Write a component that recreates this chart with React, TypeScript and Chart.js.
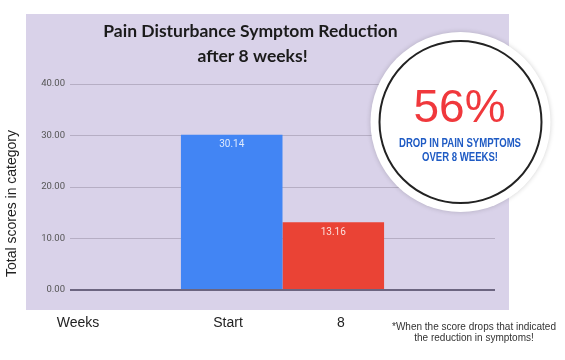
import React, { useEffect, useRef } from "react";
import { Chart, registerables } from "chart.js";

Chart.register(...registerables);

// ---- data ----
const seriesLabels = ["Start", "8"];
const seriesValues = [30.14, 13.16];
const seriesColors = ["#4285F4", "#EA4335"];
const yTickMin = 0;
const yTickMax = 40;
const yTickStep = 10;
const titleLines = ["Pain Disturbance Symptom Reduction", "after 8 weeks!"];
const yAxisTitle = "Total scores in category";
const xAxisTitle = "Weeks";
const badgeLines = ["DROP IN PAIN SYMPTOMS", "OVER 8 WEEKS!"];
const footnoteLines = ["*When the score drops that indicated", "the reduction in symptoms!"];

const dropPercent = Math.round((1 - seriesValues[1] / seriesValues[0]) * 100);

const panelPlugin = {
  id: "panel",
  beforeDraw(chart: any) {
    const ctx = chart.ctx;
    ctx.save();
    ctx.fillStyle = "#D9D2E9";
    ctx.fillRect(26, 14, 483, 296);
    ctx.restore();
  },
};

const overlayPlugin = {
  id: "overlay",
  afterDatasetsDraw(chart: any) {
    const ctx = chart.ctx;
    ctx.save();
    ctx.font = '10px Roboto, "Liberation Sans", Arial, sans-serif';
    ctx.fillStyle = "rgba(255,255,255,0.82)";
    ctx.textAlign = "center";
    ctx.textBaseline = "middle";
    chart.data.datasets.forEach((ds: any, i: number) => {
      const meta = chart.getDatasetMeta(i);
      meta.data.forEach((bar: any, j: number) => {
        ctx.fillText(Number(ds.data[j]).toFixed(2), bar.x, bar.y + 10);
      });
    });
    ctx.restore();
  },
  afterDraw(chart: any) {
    const ctx = chart.ctx;
    ctx.save();
    // title
    ctx.fillStyle = "#1b1b1b";
    ctx.textAlign = "center";
    ctx.textBaseline = "alphabetic";
    ctx.font = 'bold 17.5px Lato, "Noto Sans", sans-serif';
    ctx.fillText(titleLines[0], 250.5, 37);
    ctx.fillText(titleLines[1], 252.5, 62);

    // y axis title
    ctx.save();
    ctx.translate(16, 203.5);
    ctx.rotate(-Math.PI / 2);
    ctx.font = '14px "Liberation Sans", Arial, sans-serif';
    ctx.fillStyle = "#222";
    ctx.textAlign = "center";
    ctx.textBaseline = "alphabetic";
    ctx.fillText(yAxisTitle, 0, 0);
    ctx.restore();

    // x labels
    ctx.font = '14px "Liberation Sans", Arial, sans-serif';
    ctx.fillStyle = "#222";
    ctx.textAlign = "center";
    ctx.fillText(xAxisTitle, 78, 326.7);
    ctx.fillText(seriesLabels[0], 228, 326.7);
    ctx.fillText(seriesLabels[1], 341, 326.7);

    // footnote
    ctx.font = '10px "Liberation Sans", Arial, sans-serif';
    ctx.fillStyle = "#333";
    ctx.fillText(footnoteLines[0], 474, 329.5);
    ctx.fillText(footnoteLines[1], 474, 340.5);

    // badge
    const cx = 460.5;
    const cy = 122;
    ctx.save();
    ctx.shadowColor = "rgba(0,0,0,0.18)";
    ctx.shadowBlur = 5;
    ctx.fillStyle = "#ffffff";
    ctx.beginPath();
    ctx.arc(cx, cy, 90, 0, Math.PI * 2);
    ctx.fill();
    ctx.restore();
    ctx.beginPath();
    ctx.arc(cx, cy, 81, 0, Math.PI * 2);
    ctx.strokeStyle = "#222";
    ctx.lineWidth = 2;
    ctx.stroke();

    ctx.fillStyle = "#F0383C";
    ctx.font = '46px "Liberation Sans", Arial, sans-serif';
    ctx.textAlign = "center";
    ctx.fillText(dropPercent + "%", 459.5, 121.7);

    ctx.fillStyle = "#1F5BC4";
    ctx.font = 'bold 12.5px "Liberation Sans", Arial, sans-serif';
    const w0 = ctx.measureText(badgeLines[0]).width;
    const sx = 122 / w0;
    ctx.save();
    ctx.translate(460, 147);
    ctx.scale(sx, 1);
    ctx.fillText(badgeLines[0], 0, 0);
    ctx.restore();
    ctx.save();
    ctx.translate(460, 160.5);
    ctx.scale(sx, 1);
    ctx.fillText(badgeLines[1], 0, 0);
    ctx.restore();

    ctx.restore();
  },
};

export default function App() {
  const ref = useRef<HTMLCanvasElement | null>(null);
  useEffect(() => {
    if (!ref.current) return;
    const chart = new Chart(ref.current, {
      type: "bar",
      data: {
        labels: [""],
        datasets: seriesLabels.map((l, i) => ({
          label: l,
          data: [seriesValues[i]],
          backgroundColor: seriesColors[i],
          categoryPercentage: 0.478,
          barPercentage: 1,
        })),
      },
      options: {
        responsive: false,
        animation: false,
        devicePixelRatio: 1,
        layout: { padding: { left: 0, right: 70, top: 84, bottom: 70 } },
        plugins: {
          legend: { display: false },
          tooltip: { enabled: false },
          title: { display: false },
        },
        scales: {
          x: { display: false },
          y: {
            min: yTickMin,
            max: yTickMax,
            ticks: {
              stepSize: yTickStep,
              callback: (v: any) => Number(v).toFixed(2),
              color: "#555",
              font: { family: "Roboto", size: 9.5 },
              padding: 5,
            },
            grid: {
              color: (c: any) => (c.tick && c.tick.value === 0 ? "#6c6580" : "#b6aec4"),
              lineWidth: (c: any) => (c.tick && c.tick.value === 0 ? 2 : 1),
              drawTicks: false,
            },
            border: { display: false },
            afterFit: (s: any) => {
              s.width = 70;
            },
          },
        },
      } as any,
      plugins: [panelPlugin, overlayPlugin],
    });
    return () => chart.destroy();
  }, []);
  return (
    <div style={{ position: "absolute", left: 0, top: 0, width: 565, height: 360 }}>
      <canvas ref={ref} width={565} height={360} style={{ display: "block" }} />
    </div>
  );
}
